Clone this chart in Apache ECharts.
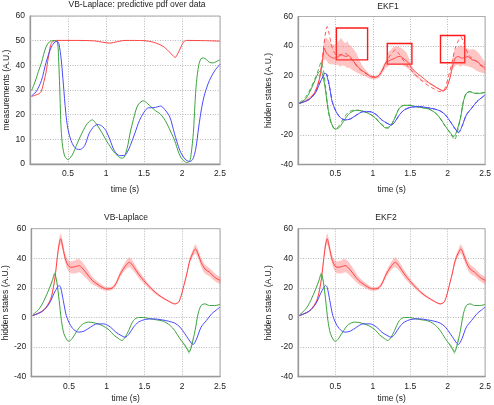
<!DOCTYPE html>
<html><head><meta charset="utf-8">
<script src="https://cdn.jsdelivr.net/npm/echarts@6/dist/echarts.min.js"></script>
<style>html,body{margin:0;padding:0;background:#fff}#c{width:494px;height:405px}</style>
</head><body><div id="c"></div>
<script>
// ---------- Panel 1: VB-Laplace predictive pdf over data (measurements) ----------
var p1RedT   = [0.02,0.08,0.12,0.15,0.18,0.21,0.24,0.27,0.3,0.35,0.6,0.85,0.95,1.05,1.15,1.25,1.5,1.62,1.7,1.77,1.83,1.88,1.91,1.94,1.98,2.02,2.06,2.3,2.5];
var p1Red    = [27.4,28.0,28.5,29.5,33,37,43,48,49.7,50.1,50.1,49.9,49.4,49.0,49.6,50.1,50.0,49.4,48.5,47.3,45.5,44,43.2,44.5,47,49.5,50.1,50.0,49.8];
var p1GreenT = [0.02,0.05,0.08,0.11,0.15,0.18,0.21,0.24,0.27,0.3,0.34,0.36,0.37,0.38,0.39,0.4,0.41,0.43,0.46,0.5,0.53,0.57,0.61,0.66,0.7,0.74,0.78,0.82,0.86,0.9,0.95,1.0,1.05,1.1,1.15,1.2,1.23,1.26,1.29,1.32,1.36,1.39,1.42,1.46,1.49,1.52,1.55,1.6,1.65,1.71,1.76,1.8,1.86,1.9,1.93,1.96,1.99,2.03,2.06,2.1,2.12,2.15,2.17,2.19,2.22,2.25,2.28,2.32,2.36,2.41,2.45,2.5];
var p1Green  = [29.7,32,34.5,37.5,41,44.5,47.4,49,49.8,50,50,49.5,47,40,32,22,14,7,3,1.8,2.5,4.5,7.5,11,13.5,15.8,17.2,17.9,16.8,15,12.5,9.7,7.3,5,3.4,2.4,2.5,4.5,8,13,18,21.5,23.9,25.2,25.6,25.2,24.4,23,21.6,20.4,18.5,16.5,12.5,9.8,7,4.3,2.4,1.2,0.6,1.2,4,12.8,24,33,40,42.7,43,42.4,41.2,41,41.5,42.3];
var p1BlueT  = [0.02,0.08,0.15,0.21,0.28,0.33,0.36,0.38,0.41,0.44,0.47,0.5,0.54,0.58,0.62,0.66,0.72,0.78,0.85,0.9,0.95,1.0,1.05,1.11,1.18,1.24,1.28,1.32,1.38,1.44,1.5,1.56,1.62,1.68,1.72,1.77,1.84,1.9,1.97,2.04,2.1,2.14,2.18,2.22,2.26,2.3,2.36,2.43,2.5];
var p1Blue   = [27.6,29.3,33.8,41,47.4,49.5,49.7,48.8,42.5,32,21,14,9.5,7,6,5.9,7.5,12.5,15.5,16,15.3,13.5,10,5.4,3.4,3.4,4.8,7.5,12.5,17.6,21,22.8,22.8,23.2,23.5,22.2,19,12.5,5.6,2,1,1.8,6,15,23,28.5,33.8,37.8,40.4];

// ---------- Panel 3 & 4: VB-Laplace / EKF2 hidden states ----------
var vbRedT   = [0.02,0.08,0.15,0.215,0.26,0.29,0.316,0.346,0.37,0.39,0.41,0.447,0.478,0.52,0.59,0.63,0.675,0.74,0.81,0.87,0.94,1.0,1.07,1.12,1.18,1.25,1.3,1.355,1.42,1.49,1.55,1.64,1.73,1.82,1.9,1.95,1.98,2.01,2.06,2.1,2.145,2.175,2.21,2.25,2.3,2.36,2.43,2.5];
var vbRed    = [1.3,2.5,4.3,8.1,12.6,19.3,27.2,40.7,49.7,53.2,49.7,40.7,36.2,33.9,34.4,35.1,33.5,29.4,25,22.7,20.4,19.3,19.8,22.7,29.4,35,37.3,34.4,29.4,25,21.6,17.1,13.7,11,9.2,10.3,13.7,19.3,29.4,38.4,44,46.3,42.9,37.3,32.8,30.6,27.2,25];
var vbRedHalf= [0.5,0.5,0.6,0.8,1,1.2,1.8,2.5,3,3.5,3.5,3,3.5,4,4.5,4.5,4.2,3.5,2.5,2,1.6,1.3,1.2,1.4,2,2.8,3.3,3,2.5,2,1.5,1,0.7,0.5,0.5,0.5,0.7,1,1.5,2,2.5,3,3,3,3,2.8,2.6,2.3];
var vbGreenT = [0.02,0.105,0.17,0.237,0.28,0.31,0.34,0.37,0.4,0.434,0.478,0.5,0.54,0.61,0.675,0.76,0.85,0.94,1.03,1.09,1.16,1.2,1.245,1.29,1.355,1.42,1.49,1.575,1.66,1.75,1.84,1.9,1.97,2.035,2.07,2.09,2.12,2.17,2.21,2.25,2.3,2.36,2.43,2.5];
var vbGreen  = [1.8,5.8,11.5,19.3,25,29.4,23.8,11.5,-2,-11,-15.5,-16,-14.4,-8.8,-4.7,-3.1,-3.8,-5.4,-8.3,-11.7,-14.4,-15.5,-13.3,-8.8,-2,0,0,-0.9,-1.6,-2.5,-5.4,-8.8,-14.4,-18.9,-21.8,-23.4,-20,-8.8,2.5,8.1,9.2,8.1,8.1,8.8];
var vbBlueT  = [0.02,0.15,0.237,0.3,0.346,0.37,0.39,0.425,0.465,0.51,0.566,0.63,0.7,0.785,0.87,0.96,1.05,1.12,1.19,1.245,1.29,1.355,1.42,1.51,1.62,1.73,1.82,1.9,1.97,2.035,2.08,2.12,2.145,2.19,2.25,2.32,2.39,2.45,2.5];
var vbBlue   = [1.3,4.3,9.2,16,20.4,21.6,20.4,11.5,1.3,-4.3,-8.3,-9.9,-9.2,-6.5,-4.3,-4.3,-6.5,-9.9,-12.1,-13.3,-11.5,-6.5,-3.1,-1.3,-0.9,-1.6,-2.5,-3.8,-6.5,-11,-14.4,-17.3,-18.2,-14.4,-6.5,-2,2.5,5,7];
var gBand1T  = [0.25,0.28,0.31,0.34,0.37];
var gBand1Lo = [20.5,24,28,22.5,10.5];
var gBand1Hi = [21.5,26.2,31,25.2,12.5];
var gBand2T  = [2.02,2.05,2.07,2.09,2.11,2.14];
var gBand2Lo = [-18.5,-20.6,-23,-25,-22,-15];
var gBand2Hi = [-17,-18.6,-20.6,-22,-19.5,-13];

// ---------- Panel 2: EKF1 ----------
var ekRedT   = [0.02,0.14,0.206,0.25,0.294,0.325,0.35,0.38,0.425,0.47,0.51,0.55,0.58,0.61,0.645,0.68,0.71,0.78,0.84,0.91,0.97,1.03,1.08,1.13,1.17,1.24,1.3,1.33,1.37,1.4,1.43,1.48,1.52,1.59,1.675,1.76,1.85,1.94,1.98,2.03,2.07,2.1,2.14,2.17,2.2,2.24,2.27,2.3,2.33,2.37,2.4,2.44,2.47,2.5];
var ekRed    = [1.4,3.6,7,11.5,19.4,29.6,38.6,35.3,33,31.9,31.9,33.2,34.1,33.5,33,33.6,31.9,27.3,24,21.7,19.4,18.8,20.1,24,28.5,30.7,31.9,32.8,33,32,30.7,28.5,25,21.7,18.3,14.9,12,9.7,11.1,18.3,27.3,31.9,33,32.2,31.9,32.4,33,31.8,30.7,30.2,29.6,27.3,26.5,24.6];
var ekBandT  = [0.02,0.2,0.28,0.32,0.345,0.37,0.41,0.455,0.5,0.54,0.57,0.59,0.61,0.63,0.66,0.68,0.72,0.77,0.81,0.85,0.9,0.96,1.03,1.08,1.13,1.17,1.21,1.24,1.27,1.32,1.37,1.41,1.45,1.5,1.54,1.58,1.66,1.76,1.85,1.94,1.98,2.03,2.06,2.09,2.13,2.17,2.2,2.25,2.29,2.34,2.38,2.42,2.46,2.5];
var ekBandLo = [1,6.5,15,27,31,31,28,27.5,27.5,27,26,27,26.5,26.5,25,25.5,24,22.5,21.5,20.5,19.5,18,17.5,18.5,22,25,26.5,27.5,27.5,28,27.5,26.5,25.5,23.5,21,19,16.5,14.4,11.5,9.2,10.5,17,24,26,27.5,26,27,26.5,26,25,23.5,22.5,22,21.5];
var ekBandHi = [1.8,7.5,17,32,43,46,44,41,41,43,45.5,44.5,43,42,43.5,41,39.5,36,32,27.5,24,21,19.5,21,26,30,36,37.5,39,40,39,37.5,35.5,30,24.5,21,17.5,15.4,12.5,10.2,11.7,19.5,31,37,39.5,40.5,40,38.5,37.5,38,37,35,32,29];
var ekGreenT = [0.026,0.1,0.16,0.23,0.27,0.3,0.33,0.37,0.4,0.44,0.48,0.51,0.56,0.62,0.69,0.78,0.86,0.94,1.03,1.09,1.18,1.24,1.29,1.355,1.42,1.49,1.575,1.66,1.75,1.84,1.9,1.97,2.035,2.08,2.11,2.17,2.21,2.25,2.3,2.36,2.43,2.5];
var ekGreen  = [1.4,4.3,9.3,17.2,21.7,23.3,20.6,9.3,-2,-11,-15.6,-16,-14.5,-9.9,-5.4,-3.4,-3.8,-5.4,-8.3,-11.7,-15.4,-13.5,-9,-2,0,0,-0.9,-1.6,-2.5,-5.4,-8.8,-14.2,-18.5,-21.2,-19,-8.8,2.5,8.1,9.2,8.1,8.1,8.8];
var ekBlueT  = [0.02,0.14,0.23,0.29,0.34,0.36,0.38,0.425,0.456,0.51,0.566,0.63,0.7,0.785,0.87,0.96,1.05,1.12,1.19,1.245,1.29,1.355,1.42,1.51,1.62,1.73,1.82,1.9,1.97,2.035,2.08,2.12,2.145,2.19,2.25,2.32,2.39,2.45,2.5];
var ekBlue   = [1.4,3.6,8.1,14.9,20.1,21.7,21,11.5,2.5,-4.3,-8.3,-9.9,-9.2,-6.5,-4.3,-4.3,-6.5,-9.9,-12.1,-13.3,-11.5,-6.5,-3.1,-1.3,-0.9,-1.6,-2.5,-3.8,-6.5,-11,-14.4,-17.3,-18.5,-14.4,-6.5,-2,2.5,5,7];
// highlight rectangles (time start, time end, top, bottom)
var rectT0 = [0.513,1.193,1.904];
var rectT1 = [0.93,1.522,2.228];
var rectY0 = [52.2,41.8,47.2];
var rectY1 = [30.7,27.8,28.7];

// ---------- labels ----------
var titles = ['VB-Laplace: predictive pdf over data','EKF1','VB-Laplace','EKF2'];
var yNames = ['measurements (A.U.)','hidden states (A.U.)','hidden states (A.U.)','hidden states (A.U.)'];
var xName = 'time (s)';

var FONT = 'Liberation Sans, Arial, Helvetica, sans-serif';
var RED = '#ff4444', GREEN = '#3ca43c', BLUE = '#4a4aff';
var RED_BAND = 'rgba(255,95,95,0.36)', GREEN_BAND = 'rgba(80,180,80,0.33)';

function zip(t, v) { return t.map(function (x, i) { return [x, v[i]]; }); }
function line(gi, t, v, color, opts) {
  var s = { type: 'line', xAxisIndex: gi, yAxisIndex: gi, data: zip(t, v), showSymbol: false, symbol: 'none',
    smooth: 0.3, z: 3, silent: true, animation: false,
    lineStyle: { color: color, width: 1 } };
  if (opts) { for (var k in opts) s[k] = opts[k]; }
  return s;
}
function band(gi, t, lo, hi, color, smooth) {
  return { type: 'custom', xAxisIndex: gi, yAxisIndex: gi, z: 2, silent: true, animation: false,
    data: t.map(function (x, i) { return [x, lo[i], hi[i]]; }),
    encode: { x: 0, y: [1, 2] },
    renderItem: function (params, api) {
      if (params.dataIndex !== 0) return null;
      var pts = [];
      for (var i = 0; i < t.length; i++) pts.push(api.coord([t[i], hi[i]]));
      for (var j = t.length - 1; j >= 0; j--) pts.push(api.coord([t[j], lo[j]]));
      return { type: 'polygon', shape: { points: pts, smooth: smooth || 0 }, style: { fill: color } };
    } };
}
function addHalf(v, h, sgn) { return v.map(function (x, i) { return x + sgn * h[i]; }); }

var grids = [
  { left: 30, top: 16, width: 190, height: 148 },
  { left: 298, top: 16.5, width: 190, height: 148 },
  { left: 30, top: 228.7, width: 190, height: 148 },
  { left: 298, top: 228.7, width: 190, height: 148 }
];
var xNameGap = [21, 21, 17.5, 17.5];
var yNameGap = [19, 25, 19, 25];
var titlePos = [[137, 0.5], [388, 2.5], [126, 213.5], [386, 213.5]];

var option = {
  backgroundColor: '#fff',
  animation: false,
  title: titles.map(function (tx, i) {
    return { text: tx, left: titlePos[i][0], top: titlePos[i][1], textAlign: 'center', padding: 0,
      textStyle: { fontSize: 8.5, fontWeight: 'normal', color: '#222', fontFamily: FONT } };
  }),
  grid: grids.map(function (g) {
    return { left: g.left, top: g.top, width: g.width, height: g.height, show: true,
      borderColor: '#a8a8a8', borderWidth: 1, backgroundColor: 'transparent' };
  }),
  xAxis: grids.map(function (g, i) {
    return { type: 'value', gridIndex: i, min: 0, max: 2.5, interval: 0.5,
      name: xName, nameLocation: 'middle', nameGap: xNameGap[i],
      nameTextStyle: { fontSize: 8.5, color: '#222', fontFamily: FONT },
      axisLine: { show: true, onZero: false, lineStyle: { color: '#999', width: 1.3 } },
      axisTick: { show: false },
      splitLine: { show: true, lineStyle: { type: [1, 1.5], color: '#b8b8b8', width: 1 } },
      axisLabel: { fontSize: 8.5, color: '#222', fontFamily: FONT, margin: 5,
        formatter: function (v) { return v === 0 ? '' : String(v); } } };
  }),
  yAxis: grids.map(function (g, i) {
    return { type: 'value', gridIndex: i, min: i === 0 ? 0 : -40, max: 60, interval: i === 0 ? 10 : 20,
      name: yNames[i], nameLocation: 'middle', nameGap: yNameGap[i],
      nameTextStyle: { fontSize: 8.5, color: '#222', fontFamily: FONT },
      axisLine: { show: true, onZero: false, lineStyle: { color: '#999', width: 1.3 } },
      axisTick: { show: false },
      splitLine: { show: true, lineStyle: { type: [1, 1.5], color: '#b8b8b8', width: 1 } },
      axisLabel: { fontSize: 8.5, color: '#222', fontFamily: FONT, margin: 5 } };
  }),
  series: [
    // panel 1
    line(0, p1RedT, p1Red, RED),
    line(0, p1GreenT, p1Green, GREEN),
    line(0, p1BlueT, p1Blue, BLUE),
    // panel 2 EKF1
    band(1, ekBandT, ekBandLo, ekBandHi, RED_BAND, 0),
    line(1, vbRedT, vbRed, RED, { lineStyle: { color: RED, width: 0.9, type: [4, 3] } }),
    line(1, vbGreenT, vbGreen, GREEN, { lineStyle: { color: GREEN, width: 0.9, type: [4, 3] } }),
    line(1, vbBlueT, vbBlue, BLUE, { lineStyle: { color: BLUE, width: 0.9, type: [4, 3] } }),
    line(1, ekRedT, ekRed, RED, { smooth: 0.15,
      markArea: { silent: true, label: { show: false },
        itemStyle: { color: 'rgba(0,0,0,0)', borderColor: '#ff1a1a', borderWidth: 1.4 },
        data: rectT0.map(function (t0, i) { return [{ coord: [t0, rectY0[i]] }, { coord: [rectT1[i], rectY1[i]] }]; }) } }),
    line(1, ekGreenT, ekGreen, GREEN),
    line(1, ekBlueT, ekBlue, BLUE),
    // panel 3 VB-Laplace
    band(2, vbRedT, addHalf(vbRed, vbRedHalf, -1), addHalf(vbRed, vbRedHalf, 1), RED_BAND, 0.3),
    band(2, gBand1T, gBand1Lo, gBand1Hi, GREEN_BAND, 0.3),
    band(2, gBand2T, gBand2Lo, gBand2Hi, GREEN_BAND, 0.3),
    line(2, vbRedT, vbRed, RED),
    line(2, vbGreenT, vbGreen, GREEN),
    line(2, vbBlueT, vbBlue, BLUE),
    // panel 4 EKF2
    band(3, vbRedT, addHalf(vbRed, vbRedHalf, -1), addHalf(vbRed, vbRedHalf, 1), RED_BAND, 0.3),
    band(3, gBand1T, gBand1Lo, gBand1Hi, GREEN_BAND, 0.3),
    band(3, gBand2T, gBand2Lo, gBand2Hi, GREEN_BAND, 0.3),
    line(3, vbRedT, vbRed, RED),
    line(3, vbGreenT, vbGreen, GREEN),
    line(3, vbBlueT, vbBlue, BLUE)
  ]
};
var chart = echarts.init(document.getElementById('c'), null, { renderer: 'canvas' });
chart.setOption(option);
</script></body></html>
